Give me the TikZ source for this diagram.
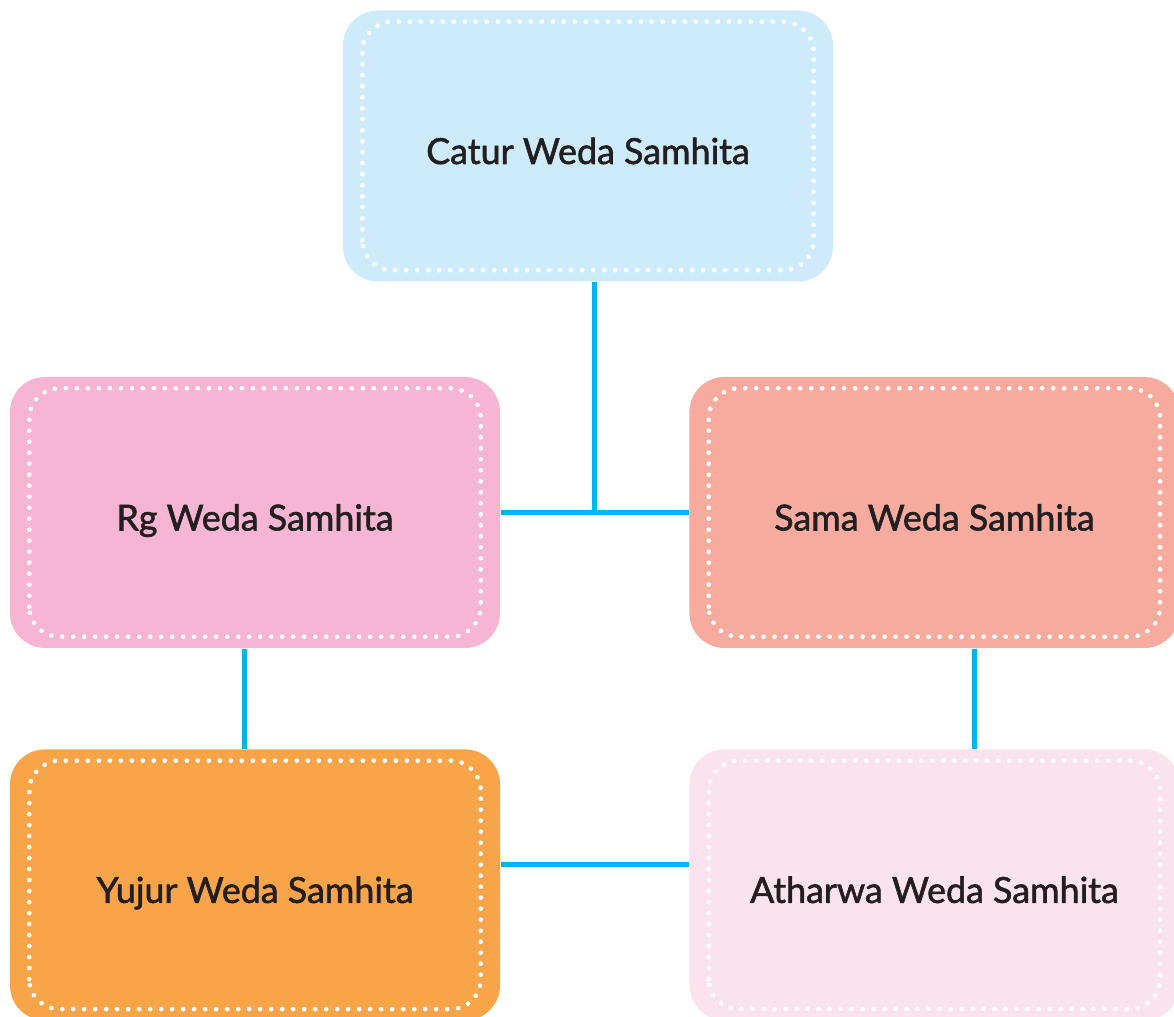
\documentclass[tikz,border=0pt]{standalone}
\usepackage{fontspec}
\setmainfont{Lato}[FakeBold=1.6]
\usepackage{xcolor}
\usetikzlibrary{positioning, calc}

\definecolor{catur}{HTML}{CDEBFA}
\definecolor{rg}{HTML}{F5B5D3}
\definecolor{sama}{HTML}{F7AB9F}
\definecolor{yujur}{HTML}{F8A54A}
\definecolor{atharwa}{HTML}{FAE3EC}
\definecolor{linkblue}{HTML}{00B4EE}
\definecolor{ink}{HTML}{231F20}

\begin{document}
\begin{tikzpicture}[
  node distance=1.0cm and 1.88cm,
  box/.style={rectangle, rounded corners=0.35cm, minimum width=4.9cm,
              minimum height=2.71cm, align=center, text=ink,
              text height=0.36cm, text depth=0pt,
              font=\fontsize{10.2}{12}\selectfont},
  dotborder/.style={draw=white, line width=0.047cm, line cap=round,
                    dash pattern=on 0pt off 0.11cm, rounded corners=0.3cm},
  link/.style={draw=linkblue, line width=0.05cm}
]
\useasboundingbox (0,0) rectangle (11.74,10.17);

\node[box, fill=catur] (catur) at (5.88,8.71) {Catur Weda Samhita};
\node[box, fill=rg] (rg) at (2.55,5.045) {Rg Weda Samhita};
\node[box, fill=sama, right=of rg] (sama) {Sama Weda Samhita};
\node[box, fill=yujur, below=of rg] (yujur) {Yujur Weda Samhita};
\node[box, fill=atharwa, below=of sama] (atharwa) {Atharwa Weda Samhita};

% dotted inner frames
\foreach \n in {catur, rg, sama, yujur, atharwa}
  \draw[dotborder] ([shift={(0.2,0.12)}]\n.south west) rectangle ([shift={(-0.2,-0.12)}]\n.north east);

% connectors
\coordinate (junction) at ($(rg.east)!0.5!(sama.west)$);
\draw[link] (rg.east) -- (sama.west);
\draw[link] (junction) -- (junction |- catur.south);
\draw[link] ([xshift=-0.11cm]rg.south) -- ([xshift=-0.11cm]yujur.north);
\draw[link] ([xshift=0.4cm]sama.south) -- ([xshift=0.4cm]atharwa.north);
\draw[link] ([yshift=0.2cm]yujur.east) -- ([yshift=0.2cm]atharwa.west);
\end{tikzpicture}
\end{document}
